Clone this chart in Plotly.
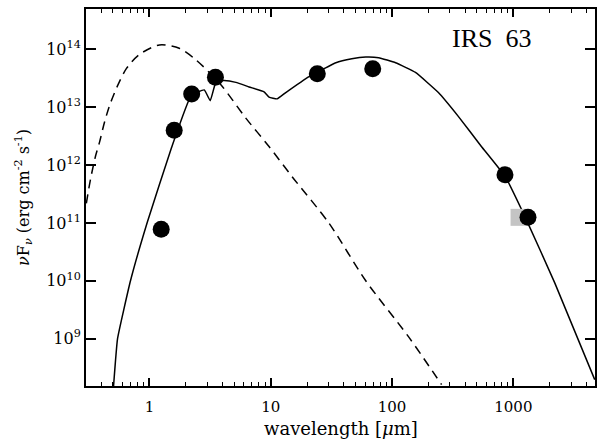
import plotly.graph_objects as go

# Photometry (filled circles)
obs_wave = [1.25, 1.6, 2.23, 3.5, 24.2, 69.3, 853, 1320]
obs_flux = [7.8e10, 4.0e12, 1.7e13, 3.3e13, 3.8e13, 4.65e13, 6.8e11, 1.25e11]

# Grey square (alternative mm point)
sq_wave = [1114]
sq_flux = [1.25e11]

# Model SED (solid line)
model_wave = [0.506, 0.546, 0.698, 0.963, 1.52, 2.21, 2.83, 3.17, 3.55, 4.13, 5.16,
              6.63, 8.81, 9.68, 11.3, 13.3, 20.7, 24.0, 34.4, 46.6, 60.7, 77.6,
              107, 156, 241, 353, 545, 858, 1284, 2198, 4686]
model_flux = [1.5e8, 1.0e9, 1.0e10, 1.05e11, 2.0e12, 1.6e13, 2.0e13, 1.3e13, 2.8e13,
              2.9e13, 2.7e13, 2.25e13, 1.85e13, 1.5e13, 1.4e13, 1.8e13, 3.4e13,
              4.0e13, 5.9e13, 6.9e13, 7.4e13, 7.2e13, 5.9e13, 4.0e13, 1.8e13,
              6.9e12, 2.1e12, 6.3e11, 1.12e11, 9.1e9, 1.95e8]

# Stellar photosphere (dashed line)
star_wave = [0.302, 0.327, 0.360, 0.388, 0.425, 0.469, 0.543, 0.647, 0.820, 1.21,
             1.76, 2.42, 3.88, 6.23, 9.68, 15.0, 30.1, 60.7, 137, 256]
star_flux = [2.19e11, 5.75e11, 1.45e12, 2.5e12, 5.4e12, 1.07e13, 2.3e13, 4.7e13,
             8.1e13, 1.2e14, 1.05e14, 6.6e13, 2.45e13, 6.5e12, 2.1e12, 6.3e11,
             1.0e11, 1.0e10, 1.07e9, 1.6e8]

xtick_vals = [1, 10, 100, 1000]
xtick_text = ["1", "10", "100", "1000"]
ytick_vals = [1e9, 1e10, 1e11, 1e12, 1e13, 1e14]
ytick_text = ["10<sup>9</sup>", "10<sup>10</sup>", "10<sup>11</sup>",
              "10<sup>12</sup>", "10<sup>13</sup>", "10<sup>14</sup>"]

SERIF = "DejaVu Serif"

fig = go.Figure()
fig.add_trace(go.Scatter(x=star_wave, y=star_flux, mode="lines",
                         line=dict(color="black", width=1.5, dash="9px,6px", shape="spline", smoothing=0.8),
                         showlegend=False, hoverinfo="skip"))
fig.add_trace(go.Scatter(x=model_wave, y=model_flux, mode="lines",
                         line=dict(color="black", width=1.5, shape="spline", smoothing=0.35),
                         showlegend=False, hoverinfo="skip"))
fig.add_trace(go.Scatter(x=sq_wave, y=sq_flux, mode="markers",
                         marker=dict(symbol="square", size=17, color="#c4c4c4", line=dict(width=0)),
                         showlegend=False))
fig.add_trace(go.Scatter(x=obs_wave, y=obs_flux, mode="markers",
                         marker=dict(symbol="circle", size=17, color="black", line=dict(width=0)),
                         showlegend=False))

fig.update_xaxes(type="log", range=[-0.5229, 3.673],
                 tickvals=xtick_vals, ticktext=xtick_text,
                 ticks="inside", ticklen=8, tickwidth=1.5, tickcolor="black",
                 minor=dict(ticks="inside", ticklen=4, tickwidth=1.2, tickcolor="black", dtick="D1", showgrid=False),
                 showline=True, linewidth=2, linecolor="black", mirror="ticks",
                 showgrid=False, zeroline=False, ticklabelstandoff=6,
                 tickfont=dict(family=SERIF, size=15, color="black"))
fig.update_yaxes(type="log", range=[8.18, 14.70],
                 tickvals=ytick_vals, ticktext=ytick_text,
                 ticks="inside", ticklen=10, tickwidth=1.5, tickcolor="black",
                 showline=True, linewidth=2, linecolor="black", mirror="ticks",
                 showgrid=False, zeroline=False,
                 tickfont=dict(family=SERIF, size=16, color="black"))

fig.add_annotation(text="IRS\u00a0 63", xref="paper", yref="paper", x=0.797, y=0.923,
                   xanchor="center", yanchor="middle", showarrow=False,
                   font=dict(family="Liberation Serif", size=26, color="black"))
fig.add_annotation(text="wavelength [<i>μ</i>m]", xref="paper", yref="paper", x=0.5, y=-0.113,
                   xanchor="center", yanchor="middle", showarrow=False,
                   font=dict(family=SERIF, size=18, color="black"))
fig.add_annotation(text="<i>ν</i>F<sub><i>ν</i></sub> (erg cm<sup>-2</sup> s<sup>-1</sup>)",
                   xref="paper", yref="paper", x=-0.123, y=0.5, textangle=-90,
                   xanchor="center", yanchor="middle", showarrow=False,
                   font=dict(family=SERIF, size=16, color="black"))

fig.update_layout(width=597, height=439, margin=dict(l=86, r=0, t=9, b=53),
                  paper_bgcolor="white", plot_bgcolor="white")
fig.write_html("out.html", config={"displayModeBar": False},
               post_script="document.body.style.margin='0';document.body.style.overflow='hidden';")
